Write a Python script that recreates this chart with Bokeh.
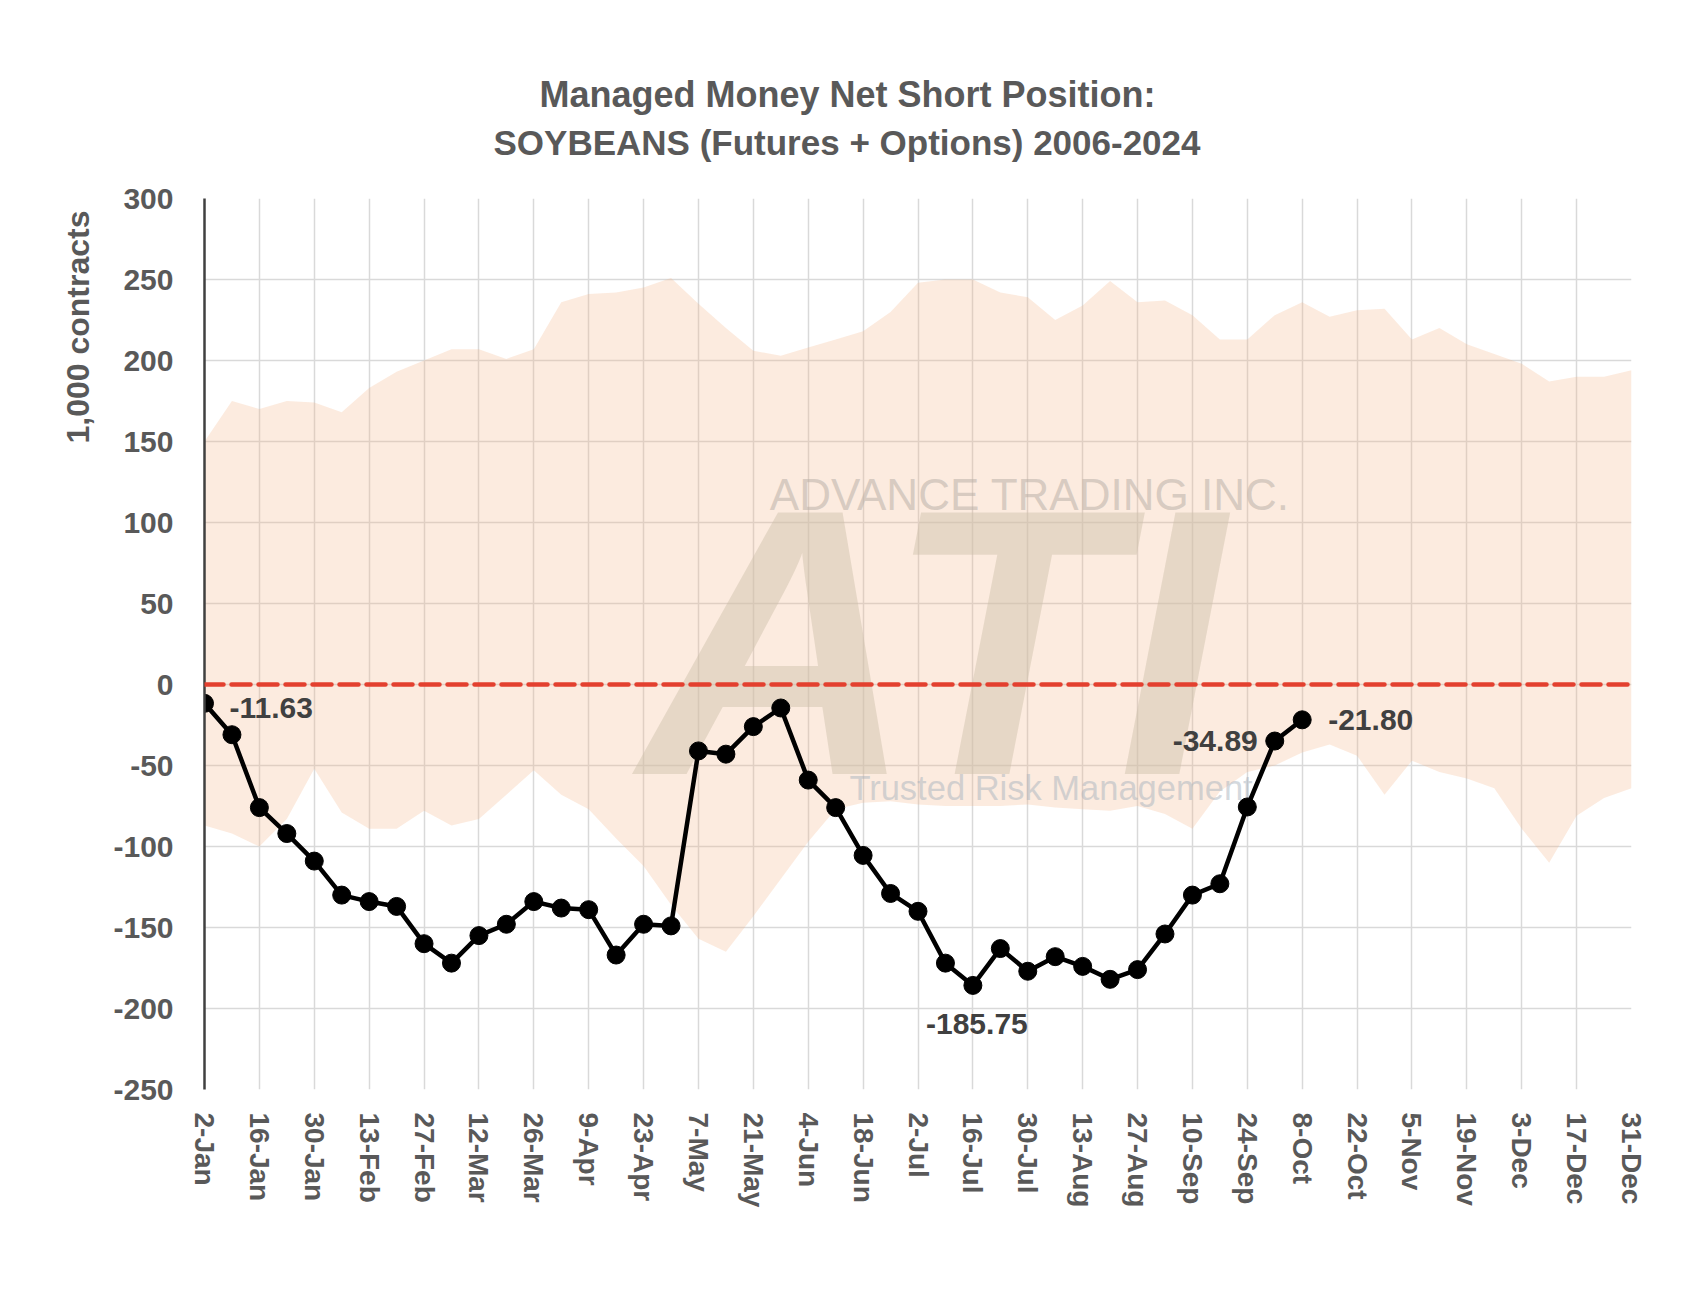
from bokeh.plotting import figure
from bokeh.models import Range1d, FixedTicker, Span, Title
from bokeh.core.properties import value
from bokeh.embed import file_html
from bokeh.resources import INLINE

# ---------------- data (1,000 contracts) ----------------
tick_labels = ["2-Jan", "16-Jan", "30-Jan", "13-Feb", "27-Feb", "12-Mar", "26-Mar",
               "9-Apr", "23-Apr", "7-May", "21-May", "4-Jun", "18-Jun", "2-Jul",
               "16-Jul", "30-Jul", "13-Aug", "27-Aug", "10-Sep", "24-Sep", "8-Oct",
               "22-Oct", "5-Nov", "19-Nov", "3-Dec", "17-Dec", "31-Dec"]

# weekly managed-money net position, 2024 (2-Jan .. 8-Oct)
net_2024 = [-11.63, -31, -76, -92, -109, -130, -134, -137, -160, -172, -155, -148,
            -134, -138, -139, -167, -148, -149, -41, -43, -26, -14.5, -59, -76,
            -105.5, -129, -140, -172, -185.75, -163, -177, -168, -174, -182, -176,
            -154, -130, -123, -75.6, -34.89, -21.80]

# 2006-2024 weekly range (max / min)
range_high = [150, 175, 170, 175, 174, 168, 183, 193, 200, 207, 207, 201, 207, 236,
              241, 242, 245, 251, 235, 220, 206, 203, 208, 213, 218, 230, 248, 250,
              250, 242, 239, 225, 234, 249, 236, 237, 228, 213, 213, 228, 236, 227,
              231, 232, 213, 220, 210, 204, 198, 187, 190, 190, 194]
range_low = [-87, -92, -100, -83, -52, -79, -89, -89, -78, -87, -83, -68, -53, -68,
             -77, -95, -112, -136, -157, -165, -143, -120, -97, -77, -73, -72, -74,
             -75, -75, -75, -74, -76, -77, -78, -75, -80, -89, -66, -54, -50, -42,
             -37, -44, -68, -47, -54, -58, -64, -89, -110, -81, -70, -64]

y_ticks = list(range(-250, 301, 50))
labelled_weeks = [0, 28, 39, 40]

weeks_all = list(range(len(range_high)))
weeks_2024 = list(range(len(net_2024)))

FONT = "Liberation Sans"
GRAY = "#595959"

p = figure(width=1680, height=1270, output_backend="svg", toolbar_location=None,
           x_range=Range1d(0, len(range_high) - 1), y_range=Range1d(-250, 300),
           min_border_left=204, min_border_right=49, min_border_top=198,
           min_border_bottom=181, background_fill_color="white",
           border_fill_color="white")
p.outline_line_color = None

# titles
p.title.text = "Managed Money Net Short Position:"
p.title.align = "left"
p.title.offset = 335
p.title.standoff = -62
p.title.text_font = FONT
p.title.text_font_size = "36px"
p.title.text_font_style = "bold"
p.title.text_color = GRAY
t2 = Title(text="SOYBEANS (Futures + Options) 2006-2024", align="left", offset=289,
           standoff=74, text_font=FONT, text_font_size="35px", text_font_style="bold",
           text_color=GRAY)
p.add_layout(t2, "above")

ylab = Title(text="1,000 contracts", align="right", offset=12, standoff=30,
             text_font=FONT, text_font_size="32px", text_font_style="bold",
             text_color=GRAY)
p.add_layout(ylab, "left")

# axes
xt = FixedTicker(ticks=list(range(0, len(range_high), 2)))
p.xaxis.ticker = xt
p.xaxis.major_label_overrides = {2 * i: lab for i, lab in enumerate(tick_labels)}
p.xaxis.major_label_orientation = "vertical"
p.xaxis.major_label_standoff = 17
p.xaxis.axis_line_color = None
p.xaxis.major_tick_line_color = None
p.xaxis.minor_tick_line_color = None
p.xaxis.major_label_text_font = FONT
p.xaxis.major_label_text_font_size = "28px"
p.xaxis.major_label_text_font_style = "bold"
p.xaxis.major_label_text_color = GRAY

yt = FixedTicker(ticks=y_ticks)
p.yaxis.ticker = yt
p.yaxis.major_label_overrides = {v: str(v) for v in y_ticks}
p.yaxis.major_label_standoff = 25
p.yaxis.axis_line_color = "#404040"
p.yaxis.axis_line_width = 2.5
p.yaxis.major_tick_line_color = None
p.yaxis.minor_tick_line_color = None
p.yaxis.major_label_text_font = FONT
p.yaxis.major_label_text_font_size = "30px"
p.yaxis.major_label_text_font_style = "bold"
p.yaxis.major_label_text_color = GRAY

p.xgrid.ticker = xt
p.ygrid.ticker = yt
p.grid.grid_line_color = "#D9D9D9"
p.grid.grid_line_width = 1.5

# historical range band
p.varea(x=weeks_all, y1=range_low, y2=range_high, fill_color="#F4B183", fill_alpha=0.26)

# watermark
p.text(x=[26.5], y=[26], text=["ATI"], text_align="center", text_baseline="middle",
       text_font=value(FONT), text_font_size="380px", text_font_style="bold italic",
       text_color="#CDBFA8", text_alpha=0.45)
p.text(x=[20.6], y=[117], text=["ADVANCE TRADING INC."], text_align="left",
       text_baseline="middle", text_font=value(FONT), text_font_size="44px",
       text_color="#B9B0A8", text_alpha=0.55)
p.text(x=[23.5], y=[-63.6], text=["Trusted Risk Management"], text_align="left",
       text_baseline="middle", text_font=value(FONT), text_font_size="34.5px",
       text_color="#A9B3BE", text_alpha=0.5)

# zero line
p.add_layout(Span(location=0, dimension="width", line_color="#E3402F", line_width=4.5,
                  line_dash="19 8", line_cap="round"))

# 2024 series
p.line(weeks_2024, net_2024, line_color="black", line_width=4.5, line_join="round")
p.scatter(weeks_2024, net_2024, size=18, color="black")

label_styles = {0: ("left", "middle", 25, 5),
                28: ("center", "top", 4, 29),
                39: ("right", "middle", -17, 0),
                40: ("left", "middle", 26, 0)}
for i in labelled_weeks:
    al, bl, dx, dy = label_styles[i]
    p.text(x=[weeks_2024[i]], y=[net_2024[i]], text=[f"{net_2024[i]:.2f}"],
           text_align=al, text_baseline=bl, x_offset=dx, y_offset=dy,
           text_font=value(FONT), text_font_size="30px", text_font_style="bold",
           text_color="#404040")

open("out.html", "w").write(file_html(p, INLINE))
